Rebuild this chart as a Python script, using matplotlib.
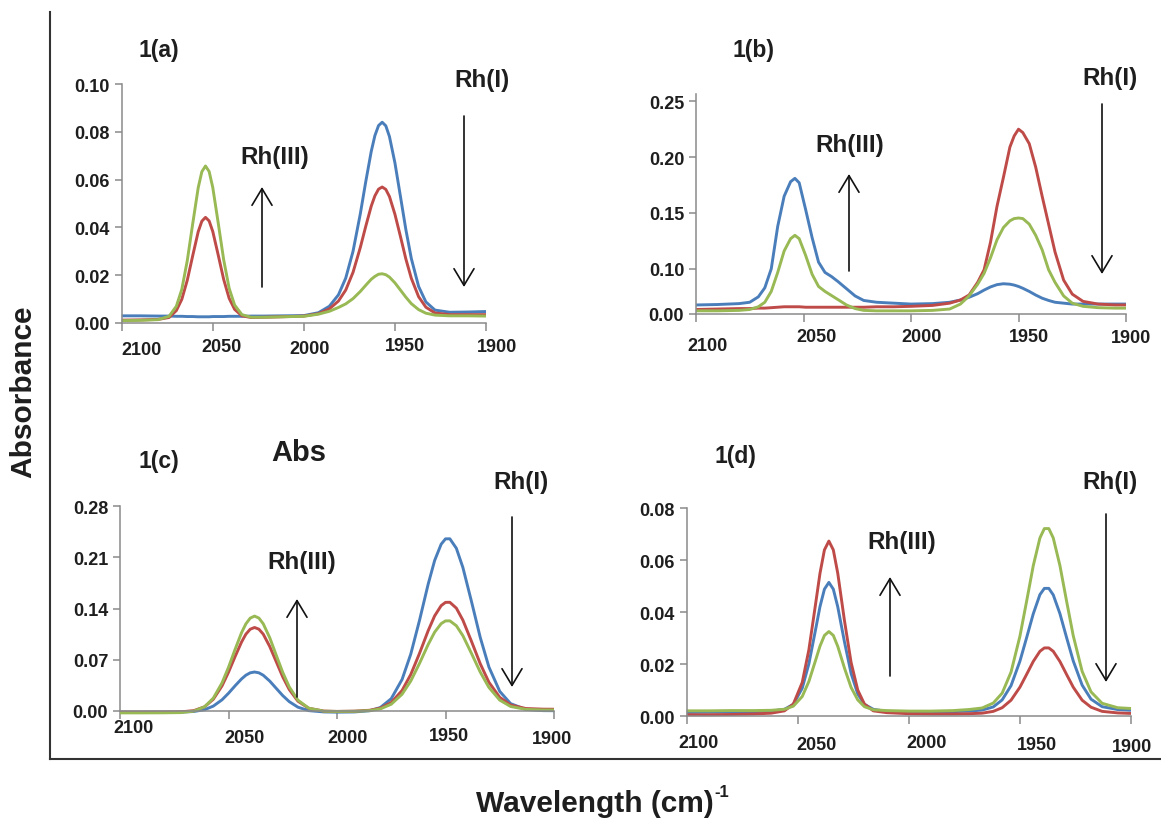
import numpy as np
import matplotlib
matplotlib.use("Agg")
import matplotlib.pyplot as plt
from matplotlib.patches import FancyArrowPatch
from matplotlib.lines import Line2D
from matplotlib.transforms import blended_transform_factory, ScaledTranslation
from matplotlib.ticker import NullLocator

plt.rcParams['font.family'] = ['Liberation Sans', 'DejaVu Sans']
plt.rcParams['font.weight'] = 'bold'

# ---------------- spectra (wavenumber in cm-1, absorbance) ----------------
wn_a = [2100, 2090, 2080, 2074, 2070, 2067, 2064, 2061, 2058, 2056, 2054, 2052, 2050, 2047, 2044,
        2041, 2038, 2034, 2029, 2022, 2012, 2000, 1992, 1986, 1981, 1977, 1973, 1969, 1966, 1963,
        1961, 1959, 1957, 1955, 1953, 1950, 1947, 1944, 1941, 1937, 1933, 1928, 1920, 1910, 1900]
blue_a = [0.0030, 0.0030, 0.0029, 0.0029, 0.0028, 0.0028, 0.0027, 0.0027, 0.0026, 0.0026, 0.0026,
          0.0026, 0.0027, 0.0027, 0.0027, 0.0028, 0.0028, 0.0028, 0.0029, 0.0029, 0.0030, 0.0031,
          0.0043, 0.0070, 0.0118, 0.0188, 0.0300, 0.0457, 0.0592, 0.0718, 0.0784, 0.0826, 0.0840,
          0.0825, 0.0780, 0.0670, 0.0531, 0.0391, 0.0270, 0.0153, 0.0088, 0.0054, 0.0045, 0.0046, 0.0048]
red_a = [0.0012, 0.0013, 0.0015, 0.0023, 0.0052, 0.0099, 0.0179, 0.0282, 0.0382, 0.0426, 0.0442,
         0.0427, 0.0383, 0.0284, 0.0182, 0.0103, 0.0057, 0.0030, 0.0023, 0.0024, 0.0026, 0.0029,
         0.0039, 0.0059, 0.0092, 0.0138, 0.0212, 0.0316, 0.0405, 0.0489, 0.0532, 0.0560, 0.0569,
         0.0559, 0.0529, 0.0455, 0.0363, 0.0268, 0.0187, 0.0110, 0.0066, 0.0042, 0.0035, 0.0035, 0.0035]
green_a = [0.0010, 0.0011, 0.0014, 0.0028, 0.0070, 0.0141, 0.0261, 0.0416, 0.0566, 0.0633, 0.0657,
           0.0634, 0.0567, 0.0418, 0.0264, 0.0145, 0.0075, 0.0035, 0.0024, 0.0024, 0.0026, 0.0028,
           0.0037, 0.0049, 0.0065, 0.0080, 0.0102, 0.0132, 0.0158, 0.0183, 0.0195, 0.0204, 0.0206,
           0.0202, 0.0192, 0.0168, 0.0138, 0.0108, 0.0081, 0.0056, 0.0041, 0.0033, 0.0030, 0.0030, 0.0029]

wn_b = [2100, 2090, 2080, 2075, 2071, 2068, 2065, 2062, 2059, 2056, 2054, 2052, 2049, 2046, 2043,
        2040, 2037, 2034, 2030, 2026, 2022, 2016, 2008, 2000, 1990, 1982, 1977, 1973, 1969, 1966,
        1963, 1960, 1957, 1954, 1952, 1950, 1948, 1945, 1942, 1939, 1936, 1933, 1929, 1925, 1920,
        1913, 1905, 1900]
blue_b = [0.020, 0.021, 0.023, 0.026, 0.038, 0.058, 0.100, 0.138, 0.165, 0.178, 0.181, 0.177, 0.153,
          0.128, 0.106, 0.092, 0.083, 0.072, 0.056, 0.040, 0.030, 0.026, 0.024, 0.022, 0.023, 0.026,
          0.031, 0.037, 0.045, 0.053, 0.060, 0.065, 0.067, 0.066, 0.064, 0.061, 0.057, 0.050, 0.042,
          0.035, 0.030, 0.026, 0.024, 0.022, 0.022, 0.022, 0.022, 0.022]
red_b = [0.010, 0.011, 0.012, 0.012, 0.013, 0.013, 0.014, 0.015, 0.016, 0.016, 0.016, 0.016, 0.015,
         0.015, 0.015, 0.015, 0.015, 0.015, 0.015, 0.015, 0.015, 0.016, 0.016, 0.017, 0.019, 0.024,
         0.031, 0.042, 0.070, 0.098, 0.124, 0.156, 0.182, 0.209, 0.219, 0.225, 0.222, 0.212, 0.191,
         0.165, 0.140, 0.115, 0.075, 0.044, 0.028, 0.022, 0.020, 0.020]
green_b = [0.007, 0.007, 0.008, 0.010, 0.016, 0.026, 0.050, 0.092, 0.116, 0.127, 0.130, 0.127, 0.112,
           0.088, 0.061, 0.050, 0.041, 0.032, 0.020, 0.012, 0.008, 0.007, 0.007, 0.007, 0.008, 0.011,
           0.022, 0.040, 0.066, 0.090, 0.110, 0.126, 0.137, 0.143, 0.145, 0.1455, 0.145, 0.140, 0.130,
           0.117, 0.098, 0.070, 0.040, 0.024, 0.017, 0.014, 0.013, 0.013]

wn_c = [2100, 2090, 2080, 2072, 2066, 2061, 2057, 2053, 2050, 2047, 2044, 2042, 2040, 2038, 2036,
        2034, 2031, 2028, 2025, 2022, 2018, 2013, 2006, 2000, 1992, 1985, 1980, 1975, 1970, 1966,
        1962, 1958, 1955, 1952, 1950, 1948, 1945, 1942, 1938, 1934, 1930, 1925, 1920, 1913, 1905, 1900]
blue_c = [-0.0020, -0.0020, -0.0020, -0.0019, -0.0011, 0.0014, 0.0063, 0.0149, 0.0239, 0.0340, 0.0435,
          0.0486, 0.0519, 0.0530, 0.0519, 0.0486, 0.0406, 0.0306, 0.0207, 0.0124, 0.0048, 0.0001,
          -0.0017, -0.0020, -0.0017, -0.0001, 0.0044, 0.0165, 0.0429, 0.0776, 0.1235, 0.1732, 0.2058,
          0.2281, 0.2354, 0.2355, 0.2225, 0.1963, 0.1493, 0.1005, 0.0599, 0.0265, 0.0097, 0.0017,
          0.0001, 0.0000]
red_c = [-0.0020, -0.0020, -0.0019, -0.0016, 0.0001, 0.0054, 0.0157, 0.0339, 0.0527, 0.0739, 0.0940,
         0.1048, 0.1116, 0.1140, 0.1117, 0.1049, 0.0880, 0.0671, 0.0463, 0.0290, 0.0130, 0.0033,
         -0.0005, -0.0010, -0.0006, 0.0006, 0.0035, 0.0112, 0.0278, 0.0496, 0.0784, 0.1095, 0.1299,
         0.1439, 0.1484, 0.1485, 0.1405, 0.1241, 0.0948, 0.0644, 0.0390, 0.0183, 0.0078, 0.0030,
         0.0021, 0.0020]
green_c = [-0.0030, -0.0030, -0.0029, -0.0026, -0.0006, 0.0054, 0.0172, 0.0380, 0.0594, 0.0837, 0.1068,
           0.1189, 0.1268, 0.1296, 0.1269, 0.1191, 0.1000, 0.0760, 0.0524, 0.0326, 0.0144, 0.0034,
           -0.0007, -0.0010, -0.0008, 0.0001, 0.0025, 0.0089, 0.0226, 0.0407, 0.0647, 0.0906, 0.1076,
           0.1193, 0.1230, 0.1231, 0.1164, 0.1028, 0.0783, 0.0530, 0.0319, 0.0145, 0.0058, 0.0018,
           0.0010, 0.0010]

wn_d = [2100, 2090, 2080, 2070, 2062, 2056, 2052, 2048, 2045, 2042, 2040, 2038, 2036, 2034, 2032,
        2029, 2026, 2023, 2020, 2016, 2010, 2000, 1990, 1980, 1973, 1967, 1962, 1958, 1954, 1950,
        1947, 1944, 1941, 1939, 1937, 1935, 1932, 1929, 1926, 1922, 1918, 1913, 1906, 1900]
blue_d = [0.0015, 0.0016, 0.0017, 0.0018, 0.0020, 0.0027, 0.0046, 0.0108, 0.0202, 0.0333, 0.0422,
          0.0489, 0.0515, 0.0489, 0.0421, 0.0287, 0.0165, 0.0086, 0.0046, 0.0027, 0.0019, 0.0017,
          0.0017, 0.0018, 0.0020, 0.0024, 0.0036, 0.0063, 0.0118, 0.0212, 0.0302, 0.0394, 0.0468,
          0.0492, 0.0492, 0.0467, 0.0395, 0.0303, 0.0213, 0.0120, 0.0066, 0.0037, 0.0026, 0.0023]
red_d = [0.0006, 0.0006, 0.0007, 0.0009, 0.0012, 0.0021, 0.0047, 0.0130, 0.0256, 0.0431, 0.0550,
         0.0640, 0.0674, 0.0640, 0.0550, 0.0369, 0.0207, 0.0101, 0.0047, 0.0021, 0.0014, 0.0010,
         0.0009, 0.0009, 0.0010, 0.0012, 0.0019, 0.0033, 0.0062, 0.0112, 0.0161, 0.0211, 0.0250,
         0.0263, 0.0263, 0.0250, 0.0211, 0.0161, 0.0112, 0.0062, 0.0035, 0.0019, 0.0013, 0.0011]
green_d = [0.0021, 0.0021, 0.0022, 0.0022, 0.0023, 0.0027, 0.0039, 0.0076, 0.0134, 0.0215, 0.0270,
           0.0311, 0.0326, 0.0311, 0.0269, 0.0186, 0.0111, 0.0063, 0.0037, 0.0025, 0.0022, 0.0020,
           0.0020, 0.0022, 0.0026, 0.0032, 0.0051, 0.0089, 0.0170, 0.0308, 0.0442, 0.0579, 0.0686,
           0.0722, 0.0722, 0.0686, 0.0580, 0.0443, 0.0310, 0.0173, 0.0094, 0.0050, 0.0033, 0.0030]

# ---------------- axis ticks and texts ----------------
x_ticks = [2100, 2050, 2000, 1950, 1900]
y_ticks_a = [0.00, 0.02, 0.04, 0.06, 0.08, 0.10]
y_ticks_b = [0.00, 0.10, 0.15, 0.20, 0.25]
y_ticks_c = [0.00, 0.07, 0.14, 0.21, 0.28]
y_ticks_d = [0.00, 0.02, 0.04, 0.06, 0.08]
panel_titles = ['1(a)', '1(b)', '1(c)', '1(d)']
rising_label = 'Rh(III)'
falling_label = 'Rh(I)'

BLUE, RED, GREEN = '#4a7ebb', '#be4b48', '#98b954'
AXC = '#8a8a8a'
TXT = '#1e1e1e'
W, H = 1161, 820

fig = plt.figure(figsize=(W / 100, H / 100), dpi=100)


def fx(px):
    return px / W


def fy(py):
    return 1 - py / H


# panel (b) uses a compressed bottom segment (0.00-0.10) on its y axis
def b_fwd(y):
    y = np.asarray(y, dtype=float)
    return np.where(y <= 0.10, y * 450.0, 45.0 + (y - 0.10) * 1113.3)


def b_inv(u):
    u = np.asarray(u, dtype=float)
    return np.where(u <= 45.0, u / 450.0, 0.10 + (u - 45.0) / 1113.3)


def add_panel(box, ylim, yticks, wn, blue, red, green, lab_dx, lab_dy, yscale=None):
    x0, y0, x1, y1 = box
    ax = fig.add_axes([fx(x0), fy(y1), (x1 - x0) / W, (y1 - y0) / H])
    if yscale is not None:
        ax.set_yscale('function', functions=yscale)
        ax.yaxis.set_minor_locator(NullLocator())
    for ys, c in ((blue, BLUE), (red, RED), (green, GREEN)):
        ax.plot(wn, ys, color=c, lw=2.1, clip_on=False,
                solid_capstyle='butt', solid_joinstyle='round')
    ax.set_xlim(2100, 1900)
    ax.set_ylim(*ylim)
    ax.set_yticks(yticks, [f'{v:.2f}' for v in yticks])
    ax.set_xticks(x_ticks)
    ax.tick_params(axis='x', labelbottom=False, direction='out', length=6, width=1.1, color=AXC)
    ax.tick_params(axis='y', direction='out', length=5, width=1.1, color=AXC,
                   labelsize=13, labelcolor=TXT, pad=3.5)
    for s in ('top', 'right'):
        ax.spines[s].set_visible(False)
    for s in ('left', 'bottom'):
        ax.spines[s].set_color(AXC)
        ax.spines[s].set_linewidth(1.1)
    ax.patch.set_alpha(0)
    base = blended_transform_factory(ax.transData, ax.transAxes)
    for v, dx, dy in zip(x_ticks, lab_dx, lab_dy):
        ax.text(v, 0, str(v),
                transform=base + ScaledTranslation(dx / 100, -dy / 100, fig.dpi_scale_trans),
                ha='center', va='center', fontsize=13, color=TXT)
    return ax


add_panel((121.7, 85, 486, 324), (0, 0.10), y_ticks_a, wn_a, blue_a, red_a, green_a,
          [20, 9, 6, 10, 11], [27, 24, 26, 23, 24])
add_panel((696, 95, 1126, 315), (0, 0.2565), y_ticks_b, wn_b, blue_b, red_b, green_b,
          [12, 13, 11, 10, 5], [32, 23, 23, 23, 24], yscale=(b_fwd, b_inv))
add_panel((120, 507.3, 554, 711.7), (0, 0.28), y_ticks_c, wn_c, blue_c, red_c, green_c,
          [13, 16, 11, 3, -2], [17, 27, 27, 25, 28])
add_panel((686.7, 509.3, 1131, 717.3), (0, 0.08), y_ticks_d, wn_d, blue_d, red_d, green_d,
          [12, 19, 18, 17, 1], [26, 28, 26, 28, 30])


def label(px, py, s, size, ha='center'):
    fig.text(fx(px), fy(py), s, ha=ha, va='center', fontsize=size, color=TXT)


def arrow(px, py_from, py_to):
    fig.add_artist(FancyArrowPatch((fx(px), fy(py_from)), (fx(px), fy(py_to)),
                                   transform=fig.transFigure,
                                   arrowstyle='->,head_length=0.6,head_width=0.36',
                                   mutation_scale=20, lw=1.2, color='#111111',
                                   shrinkA=0, shrinkB=0))


# panel titles
label(159, 51, panel_titles[0], 16.5)
label(753, 50, panel_titles[1], 16.5)
label(159, 462, panel_titles[2], 16.5)
label(735, 457, panel_titles[3], 16.5)
label(299, 453, 'Abs', 21)

# band labels and trend arrows
label(275, 158, rising_label, 17.5)
arrow(262, 288, 188)
label(482, 80, falling_label, 17.5)
arrow(464, 117, 288)

label(850, 146, rising_label, 17.5)
arrow(849, 272, 175)
label(1110, 78, falling_label, 17.5)
arrow(1102, 105, 275)

label(302, 563, rising_label, 17.5)
arrow(297, 698, 600)
label(521, 483, falling_label, 17.5)
arrow(512, 518, 688)

label(902, 543, rising_label, 17.5)
arrow(890, 677, 578)
label(1110, 483, falling_label, 17.5)
arrow(1106, 515, 683)

# outer frame and shared axis titles
fig.add_artist(Line2D([fx(50), fx(50)], [fy(13), fy(760)], transform=fig.transFigure,
                      color='#333333', lw=1.5))
fig.add_artist(Line2D([fx(50), fx(1161)], [fy(760), fy(760)], transform=fig.transFigure,
                      color='#333333', lw=1.5))
fig.text(fx(23), fy(392), 'Absorbance', rotation=90, ha='center', va='center',
         fontsize=21.5, color=TXT)
label(714, 804, 'Wavelength (cm)', 21.5, ha='right')
label(714, 793, '-1', 12, ha='left')

fig.savefig('out.png', dpi=100)
